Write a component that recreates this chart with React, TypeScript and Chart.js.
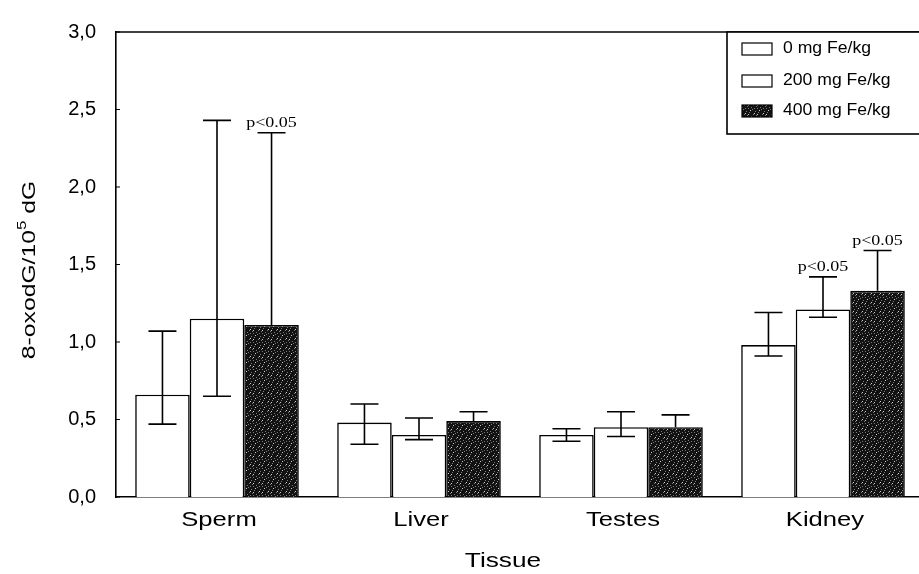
import React, { useEffect, useRef } from "react";
import { Chart, registerables } from "chart.js";

Chart.register(...registerables);

const categories = ["Sperm", "Liver", "Testes", "Kidney"];
const seriesNames = ["0 mg Fe/kg", "200 mg Fe/kg", "400 mg Fe/kg"];

const mean0 = [0.66, 0.48, 0.4, 0.98];
const upper0 = [1.07, 0.6, 0.44, 1.19];
const lower0 = [0.47, 0.34, 0.36, 0.91];

const mean200 = [1.15, 0.4, 0.45, 1.21];
const upper200 = [2.43, 0.51, 0.55, 1.42];
const lower200 = [0.65, 0.37, 0.39, 1.16];

const mean400 = [1.11, 0.49, 0.45, 1.33];
const upper400 = [2.35, 0.55, 0.53, 1.59];
const lower400: (number | null)[] = [null, null, null, null];

const sig200 = ["", "", "", "p<0.05"];
const sig400 = ["p<0.05", "", "", "p<0.05"];

const yTicks = [0, 0.5, 1.0, 1.5, 2.0, 2.5, 3.0];
const xTitle = "Tissue";

const SANS = "'Liberation Sans', Arial, sans-serif";
const SERIF = "'Liberation Serif', 'Times New Roman', serif";

function makeDarkPattern(): CanvasPattern | string {
  const c = document.createElement("canvas");
  c.width = 9;
  c.height = 9;
  const g = c.getContext("2d");
  if (!g) return "#151515";
  g.fillStyle = "#121212";
  g.fillRect(0, 0, 9, 9);
  g.fillStyle = "#7a7a7a";
  const dots = [
    [1, 0], [5, 1], [8, 3], [2, 4], [6, 6], [0, 7], [4, 8], [7, 0],
  ];
  dots.forEach(([x, y]) => g.fillRect(x, y, 1, 1));
  g.fillStyle = "#d0d0d0";
  [[3, 2], [7, 5], [1, 6]].forEach(([x, y]) => g.fillRect(x, y, 1, 1));
  const p = g.createPattern(c, "repeat");
  return p || "#151515";
}

export default function App() {
  const ref = useRef<HTMLCanvasElement | null>(null);

  useEffect(() => {
    const canvas = ref.current;
    if (!canvas) return;
    const dark = makeDarkPattern();

    const uppers = [upper0, upper200, upper400];
    const lowers: (number | null)[][] = [lower0, lower200, lower400];
    const sigs = [null, sig200, sig400];

    const decor = {
      id: "decor",
      afterDatasetsDraw(chart: any) {
        const ctx = chart.ctx as CanvasRenderingContext2D;
        const y = chart.scales.y;
        ctx.save();
        ctx.strokeStyle = "#000";
        ctx.lineWidth = 1.6;
        for (let i = 0; i < 3; i++) {
          const meta = chart.getDatasetMeta(i);
          meta.data.forEach((el: any, j: number) => {
            const cx = el.x;
            const top = y.getPixelForValue(uppers[i][j]);
            const lv = lowers[i][j];
            const bot = lv == null ? el.y : y.getPixelForValue(lv);
            const half = 14;
            ctx.beginPath();
            ctx.moveTo(cx, top);
            ctx.lineTo(cx, bot);
            ctx.moveTo(cx - half, top);
            ctx.lineTo(cx + half, top);
            if (lv != null) {
              ctx.moveTo(cx - half, bot);
              ctx.lineTo(cx + half, bot);
            }
            ctx.stroke();
            const s = sigs[i];
            if (s && s[j]) {
              ctx.save();
              ctx.fillStyle = "#000";
              ctx.font = `15px ${SERIF}`;
              ctx.textAlign = "center";
              ctx.textBaseline = "alphabetic";
              ctx.translate(cx, top - 6);
              ctx.scale(1.2, 1);
              ctx.fillText(s[j], 0, 0);
              ctx.restore();
            }
          });
        }
        ctx.restore();
      },
      afterDraw(chart: any) {
        const ctx = chart.ctx as CanvasRenderingContext2D;
        const area = chart.chartArea;
        const y = chart.scales.y;
        const x = chart.scales.x;
        ctx.save();
        ctx.strokeStyle = "#000";
        ctx.lineWidth = 1.6;
        ctx.beginPath();
        ctx.moveTo(area.left, area.top);
        ctx.lineTo(area.right, area.top);
        ctx.stroke();
        ctx.lineWidth = 1;
        yTicks.forEach((v) => {
          const py = y.getPixelForValue(v);
          ctx.beginPath();
          ctx.moveTo(area.left, py);
          ctx.lineTo(area.left + 4, py);
          ctx.stroke();
        });
        ctx.fillStyle = "#000";
        ctx.textAlign = "center";
        ctx.textBaseline = "middle";
        categories.forEach((c, i) => {
          const px = x.getPixelForValue(i);
          ctx.save();
          ctx.font = `21px ${SANS}`;
          ctx.translate(px + 2, area.bottom + 23);
          ctx.scale(1.22, 1);
          ctx.fillText(c, 0, 0);
          ctx.restore();
        });
        ctx.save();
        ctx.font = `21px ${SANS}`;
        ctx.translate(503, 561);
        ctx.scale(1.25, 1);
        ctx.fillText(xTitle, 0, 0);
        ctx.restore();
        ctx.save();
        ctx.translate(30, 270);
        ctx.rotate(-Math.PI / 2);
        ctx.scale(1.3, 1);
        const partA = "8-oxodG/10";
        const partB = "5";
        const partC = " dG";
        ctx.font = `19px ${SANS}`;
        const wA = ctx.measureText(partA).width;
        const wC = ctx.measureText(partC).width;
        ctx.font = `13px ${SANS}`;
        const wB = ctx.measureText(partB).width;
        const total = wA + wB + wC;
        let sx = -total / 2;
        ctx.textAlign = "left";
        ctx.textBaseline = "middle";
        ctx.font = `19px ${SANS}`;
        ctx.fillText(partA, sx, 0);
        sx += wA;
        ctx.font = `13px ${SANS}`;
        ctx.fillText(partB, sx, -8);
        sx += wB;
        ctx.font = `19px ${SANS}`;
        ctx.fillText(partC, sx, 0);
        ctx.restore();
        const lx = 727;
        const ly = area.top;
        ctx.fillStyle = "#fff";
        ctx.fillRect(lx, ly, 260, 102);
        ctx.strokeStyle = "#000";
        ctx.lineWidth = 1.6;
        ctx.strokeRect(lx, ly, 260, 102);
        const rows = [17, 49, 79];
        const fills: (string | CanvasPattern)[] = ["#fff", "#fff", dark];
        seriesNames.forEach((name, i) => {
          const cy = ly + rows[i];
          ctx.fillStyle = fills[i] as any;
          ctx.fillRect(lx + 15, cy - 6, 30, 12);
          ctx.lineWidth = 1.2;
          ctx.strokeRect(lx + 15, cy - 6, 30, 12);
          ctx.save();
          ctx.fillStyle = "#000";
          ctx.font = `16px ${SANS}`;
          ctx.textAlign = "left";
          ctx.textBaseline = "middle";
          ctx.translate(lx + 56, cy);
          ctx.scale(1.1, 1);
          ctx.fillText(name, 0, 0);
          ctx.restore();
        });
        ctx.restore();
      },
    };

    const chart = new Chart(canvas, {
      type: "bar",
      data: {
        labels: categories,
        datasets: [
          {
            label: seriesNames[0],
            data: mean0,
            backgroundColor: "#ffffff",
            borderColor: "#000",
            borderWidth: 1.6,
          },
          {
            label: seriesNames[1],
            data: mean200,
            backgroundColor: "#ffffff",
            borderColor: "#000",
            borderWidth: 1.6,
          },
          {
            label: seriesNames[2],
            data: mean400,
            backgroundColor: dark as any,
            borderColor: "#000",
            borderWidth: 1.6,
          },
        ],
      },
      options: {
        responsive: false,
        animation: false,
        events: [],
        layout: { padding: { left: 0, top: 21, right: 36, bottom: 0 } },
        datasets: {
          bar: { categoryPercentage: 0.81, barPercentage: 1.0 },
        },
        plugins: {
          legend: { display: false },
          tooltip: { enabled: false },
          title: { display: false },
        },
        scales: {
          x: {
            grid: { display: false, drawTicks: false },
            border: { display: true, color: "#000", width: 1.6 },
            ticks: { display: false },
            afterFit(scale: any) {
              scale.height = 77;
            },
          },
          y: {
            min: 0,
            max: 3,
            grid: { display: false, drawTicks: false },
            border: { display: true, color: "#000", width: 1.6 },
            afterBuildTicks(scale: any) {
              scale.ticks = yTicks.map((v) => ({ value: v }));
            },
            ticks: {
              color: "#000",
              padding: 20,
              font: { family: SANS, size: 20 },
              callback: (v: any) => Number(v).toFixed(1).replace(".", ","),
            },
            afterFit(scale: any) {
              scale.width = 116;
            },
          },
        },
      },
      plugins: [decor],
    });

    return () => chart.destroy();
  }, []);

  return (
    <div
      style={{
        position: "fixed",
        left: 0,
        top: 0,
        width: 919,
        height: 574,
        overflow: "hidden",
        background: "#fff",
      }}
    >
      <canvas ref={ref} width={960} height={574} style={{ width: 960, height: 574, display: "block" }} />
    </div>
  );
}
